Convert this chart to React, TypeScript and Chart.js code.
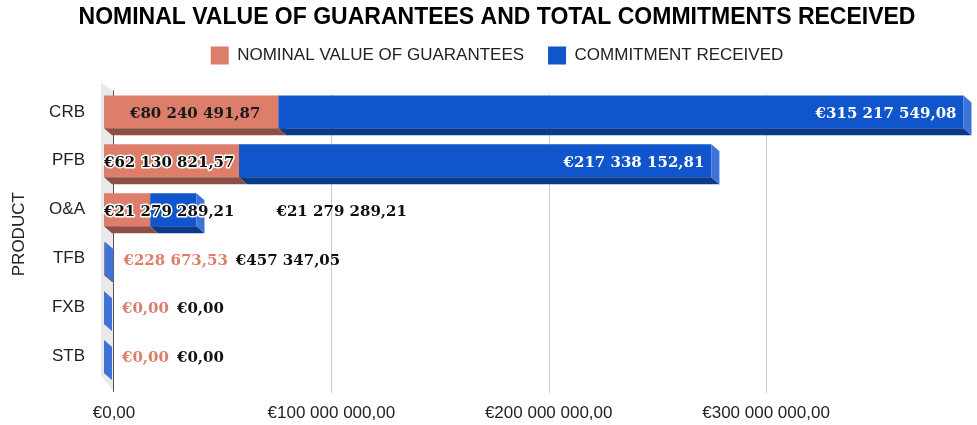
import React, { useEffect, useRef } from "react";
import { Chart, registerables } from "chart.js";

Chart.register(...registerables);

// ---- data ----
const categories = ["CRB", "PFB", "O&A", "TFB", "FXB", "STB"];
const guaranteeValues = [80240491.87, 62130821.57, 21279289.21, 228673.53, 0, 0];
const commitmentValues = [315217549.08, 217338152.81, 21279289.21, 457347.05, 0, 0];
const seriesLabels = ["NOMINAL VALUE OF GUARANTEES", "COMMITMENT RECEIVED"];
const tickValues = [0, 100000000, 200000000, 300000000];
const axisMax = 396600000;
const titleText = "NOMINAL VALUE OF GUARANTEES AND TOTAL COMMITMENTS RECEIVED";
const yTitle = "PRODUCT";

// ---- styles ----
const FRONT = ["#dd7e6b", "#1155cc"];
const BOTTOM = ["#8d4f44", "#0b3a8a"];
const SIDE = ["#e89b8b", "#3f73d7"];
const SHIFT = 10;
const DX = 8;
const DY = 7;
const SANS = "'Liberation Sans', Arial, sans-serif";
const SERIF = "'DejaVu Serif', Georgia, serif";

function euro(v: number): string {
  const [i, d] = Math.abs(v).toFixed(2).split(".");
  return "€" + i.replace(/\B(?=(\d{3})+(?!\d))/g, " ") + "," + d;
}

const bars3d = {
  id: "bars3d",
  beforeDatasetsDraw(chart: any) {
    const { ctx, chartArea: a, scales } = chart;
    const xs = scales.x;
    ctx.save();
    // left wall
    ctx.fillStyle = "#e9e9e9";
    ctx.beginPath();
    ctx.moveTo(a.left - 13, a.top - 5);
    ctx.lineTo(a.left, a.top + 4);
    ctx.lineTo(a.left, a.bottom + 11);
    ctx.lineTo(a.left - 13, a.bottom - 6);
    ctx.closePath();
    ctx.fill();
    // grid lines on back plane
    ctx.strokeStyle = "#cccccc";
    ctx.lineWidth = 1;
    xs.ticks.forEach((t: any) => {
      if (t.value === 0) return;
      const px = Math.round(xs.getPixelForValue(t.value)) + 0.5;
      ctx.beginPath();
      ctx.moveTo(px, a.top + 7);
      ctx.lineTo(px, a.bottom + 12);
      ctx.stroke();
    });
    const zx = Math.round(xs.getPixelForValue(0)) - 0.5;
    ctx.strokeStyle = "#555555";
    ctx.beginPath();
    ctx.moveTo(zx, a.top + 3);
    ctx.lineTo(zx, a.bottom + 11);
    ctx.stroke();
    ctx.restore();

    chart.data.datasets.forEach((_: any, d: number) => {
      const meta = chart.getDatasetMeta(d);
      ctx.save();
      ctx.translate(-SHIFT, 0);
      meta.controller.draw();
      meta.data.forEach((el: any) => {
        const left = Math.min(el.x, el.base);
        const right = Math.max(el.x, el.base);
        const top = el.y - el.height / 2;
        const bottom = el.y + el.height / 2;
        ctx.fillStyle = BOTTOM[d];
        ctx.beginPath();
        ctx.moveTo(left, bottom);
        ctx.lineTo(right, bottom);
        ctx.lineTo(right + DX, bottom + DY);
        ctx.lineTo(left + DX, bottom + DY);
        ctx.closePath();
        ctx.fill();
        ctx.fillStyle = SIDE[d];
        ctx.beginPath();
        ctx.moveTo(right, top);
        ctx.lineTo(right + DX, top + DY);
        ctx.lineTo(right + DX, bottom + DY);
        ctx.lineTo(right, bottom);
        ctx.closePath();
        ctx.fill();
      });
      ctx.restore();
    });
    return false;
  },
};

const valueLabels = {
  id: "valueLabels",
  afterDraw(chart: any) {
    const ctx = chart.ctx;
    ctx.save();
    ctx.font = `bold 15px ${SERIF}`;
    ctx.textBaseline = "middle";
    const m0 = chart.getDatasetMeta(0);
    const m1 = chart.getDatasetMeta(1);
    categories.forEach((_, i) => {
      const els = [m0.data[i], m1.data[i]];
      const end = Math.max(els[0].x, els[1].x, els[0].base) - SHIFT;
      let cursor = -Infinity;
      els.forEach((el: any, d: number) => {
        const v = chart.data.datasets[d].data[i];
        const text = euro(v);
        const tw = ctx.measureText(text).width;
        const left = Math.min(el.x, el.base) - SHIFT;
        const right = Math.max(el.x, el.base) - SHIFT;
        const w = right - left;
        const y = el.y + 2;
        if (tw + 12 <= w) {
          ctx.fillStyle = d === 0 ? "#1a1a1a" : "#ffffff";
          if (d === 0) {
            ctx.textAlign = "center";
            ctx.fillText(text, (left + right) / 2 + 4, y);
          } else {
            ctx.textAlign = "right";
            ctx.fillText(text, right - 7, y);
          }
        } else if (d === 0 && w >= 20) {
          ctx.textAlign = "left";
          ctx.lineWidth = 3;
          ctx.lineJoin = "round";
          ctx.strokeStyle = "#ffffff";
          ctx.strokeText(text, left, y);
          ctx.fillStyle = "#111111";
          ctx.fillText(text, left, y);
          cursor = left + tw + 42;
        } else {
          const x = Math.max(end + 18, cursor);
          ctx.textAlign = "left";
          ctx.fillStyle = d === 0 ? FRONT[0] : "#111111";
          ctx.fillText(text, x, y);
          cursor = x + tw + 8;
        }
      });
    });
    ctx.restore();
  },
};

export default function App() {
  const ref = useRef<HTMLCanvasElement | null>(null);
  useEffect(() => {
    if (!ref.current) return;
    const chart = new Chart(ref.current, {
      type: "bar",
      data: {
        labels: categories,
        datasets: [
          { label: seriesLabels[0], data: guaranteeValues, backgroundColor: FRONT[0], borderWidth: 0 },
          { label: seriesLabels[1], data: commitmentValues, backgroundColor: FRONT[1], borderWidth: 0 },
        ],
      },
      options: {
        responsive: false,
        animation: false,
        indexAxis: "y",
        layout: { padding: { left: 18, right: 1, top: 0, bottom: 0 } },
        datasets: { bar: { categoryPercentage: 0.8, barPercentage: 0.84 } } as any,
        plugins: {
          title: {
            display: true,
            text: titleText,
            color: "#000000",
            font: { family: SANS, size: 23, weight: "bold", lineHeight: 1.2 },
            padding: { top: 3.5, bottom: -8.7 },
          },
          legend: {
            position: "top",
            labels: {
              boxWidth: 18,
              boxHeight: 18,
              padding: 24,
              color: "#222222",
              font: { family: SANS, size: 17 },
            },
          },
          tooltip: { enabled: false },
        },
        scales: {
          x: {
            type: "linear",
            stacked: true,
            min: 0,
            max: axisMax,
            position: "bottom",
            afterBuildTicks: (s: any) => {
              s.ticks = tickValues.map((v) => ({ value: v }));
            },
            afterFit: (s: any) => {
              s.height = 44;
            },
            grid: { display: false },
            border: { display: false },
            ticks: {
              padding: 14,
              color: "#222222",
              font: { family: SANS, size: 17 },
              maxRotation: 0,
              autoSkip: false,
              callback: (v: any) => euro(Number(v)),
            },
          },
          xTop: {
            type: "linear",
            position: "top",
            afterFit: (s: any) => {
              s.height = 13;
            },
            ticks: { display: false },
            grid: { display: false },
            border: { display: false },
          },
          y: {
            type: "category",
            stacked: true,
            afterFit: (s: any) => {
              s.width = 96;
            },
            grid: { display: false },
            border: { display: false },
            ticks: { padding: 21, color: "#222222", font: { family: SANS, size: 17 } },
            title: {
              display: true,
              text: yTitle,
              color: "#222222",
              font: { family: SANS, size: 17 },
              padding: { top: -9, bottom: 0 },
            },
          },
        },
      } as any,
      plugins: [bars3d, valueLabels],
    });
    return () => chart.destroy();
  }, []);
  return (
    <div style={{ position: "absolute", left: 0, top: 0, width: 977, height: 425, background: "#ffffff" }}>
      <canvas ref={ref} width={977} height={425} />
    </div>
  );
}
